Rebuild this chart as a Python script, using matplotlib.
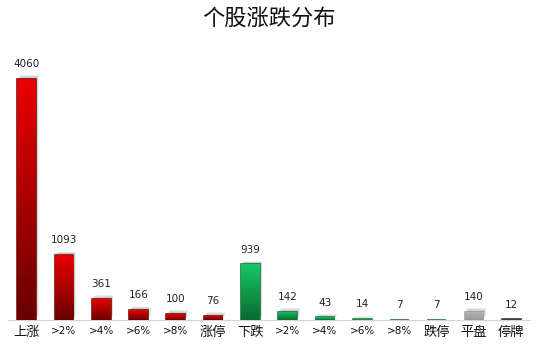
import numpy as np
import matplotlib.pyplot as plt
import matplotlib.patheffects as pe
from matplotlib.colors import LinearSegmentedColormap

plt.rcParams['font.family'] = ['Noto Sans CJK SC', 'DejaVu Sans']

categories = ['上涨', '>2%', '>4%', '>6%', '>8%', '涨停', '下跌',
              '>2%', '>4%', '>6%', '>8%', '跌停', '平盘', '停牌']
values = [4060, 1093, 361, 166, 100, 76, 939, 142, 43, 14, 7, 7, 140, 12]
groups = ['up'] * 6 + ['down'] * 6 + ['flat', 'halt']

gradients = {
    'up': ('#e80000', '#6a0000'),
    'down': ('#14c864', '#0c6a32'),
    'flat': ('#b4b4b4', '#9a9a9a'),
    'halt': ('#505050', '#303030'),
}

fig = plt.figure(figsize=(5.38, 3.49), dpi=100)
ax = fig.add_axes([0.015, 0.083, 0.97, 0.745])

x = np.arange(len(categories))
width = 0.5

# soft shadow, mostly above and to the right
shadow = [pe.SimplePatchShadow(offset=(dx, dy), shadow_rgbFace='#7a7a7a', alpha=0.14)
          for dx, dy in ((2.0, 2.6), (1.5, 2.0), (1.0, 1.3), (0.5, 0.7))]

bars = ax.bar(x, values, width=width, color='none', zorder=2)
for b, g, v in zip(bars, groups, values):
    top, bottom = gradients[g]
    b.set_facecolor(bottom)
    b.set_edgecolor(bottom)
    b.set_linewidth(1.1)
    b.set_path_effects(shadow + [pe.Normal()])
    cmap = LinearSegmentedColormap.from_list('g', [bottom, top])
    x0 = b.get_x()
    grad = np.linspace(0, 1, 64).reshape(-1, 1)
    im = ax.imshow(grad, cmap=cmap, origin='lower', aspect='auto',
                   extent=(x0, x0 + width, 0, v), zorder=3)
    im.set_clip_path(b)
    ax.annotate(f'{v}', (b.get_x() + width / 2, v), xytext=(0, 7),
                textcoords='offset points', ha='center', va='bottom',
                fontsize=7.5, color='#222222', family='DejaVu Sans')

ax.set_xlim(-0.5, len(categories) - 0.5)
ax.set_ylim(0, 4380)
ax.set_xticks(x)
ax.set_xticklabels(categories)
for lbl, c in zip(ax.get_xticklabels(), categories):
    if '%' in c:
        lbl.set_fontsize(7.5)
        lbl.set_family('DejaVu Sans')
    else:
        lbl.set_fontsize(9.5)
ax.tick_params(axis='x', length=0, pad=4, colors='#111111')
ax.set_yticks([])
for s in ('top', 'right', 'left'):
    ax.spines[s].set_visible(False)
ax.spines['bottom'].set_color('#d4d4d4')
ax.spines['bottom'].set_zorder(1)

fig.text(0.5, 0.948, '个股涨跌分布', ha='center', va='center',
         fontsize=16, color='#111111', fontweight='light')

fig.savefig('out.png', dpi=100)
